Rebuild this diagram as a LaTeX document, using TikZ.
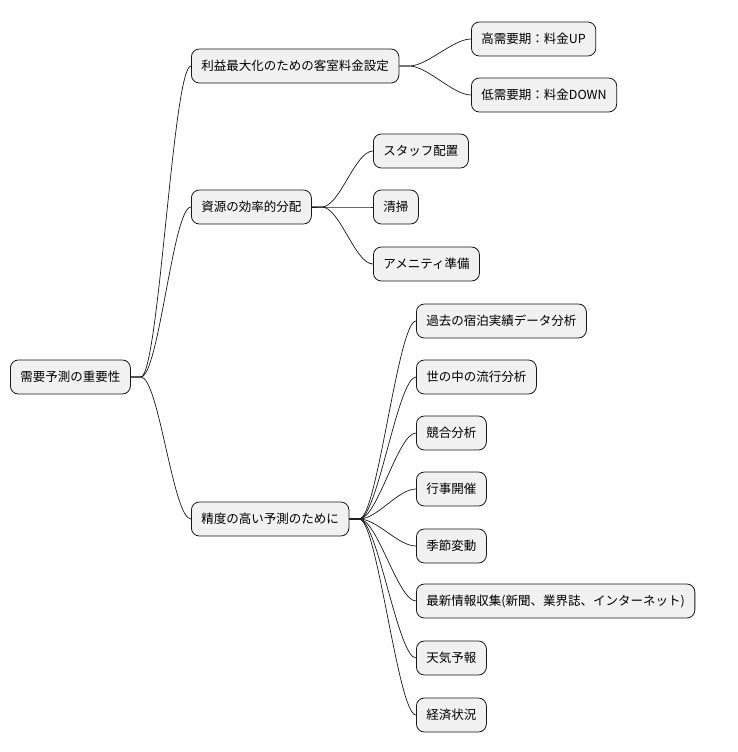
\documentclass[tikz,border=0pt]{standalone}
\usepackage{fontspec}
\setmainfont{Noto Sans CJK JP}
\usepackage{tikz}
\definecolor{nodefill}{HTML}{F1F1F1}
\definecolor{nodeline}{HTML}{181818}
\tikzset{
  topic/.style={draw=nodeline, fill=nodefill, rounded corners=8pt, anchor=west,
    minimum height=34pt, inner xsep=10pt, font=\fontsize{12.5}{14}\selectfont, line width=0.8pt},
  branch/.style={draw=nodeline, line width=0.7pt}
}
\newcommand{\branchto}[2]{\draw[branch] (#1.east) -- ++(10,0) .. controls +(18,0) and +(-18,0) .. (#2.west);}
\begin{document}
\begin{tikzpicture}[x=1pt,y=-1pt]
	\useasboundingbox[fill=white] (0,0) rectangle (737,752);
	% root
	\node[topic] (root) at (10,377) {需要予測の重要性};
	% first level
	\node[topic] (price) at (191,66) {利益最大化のための客室料金設定};
	\node[topic] (res) at (191,207) {資源の効率的分配};
	\node[topic] (acc) at (191,519) {精度の高い予測のために};
	% pricing
	\node[topic] (high) at (471,39) {高需要期：料金UP};
	\node[topic] (low) at (471,95) {低需要期：料金DOWN};
	% resources
	\node[topic] (staff) at (373,151) {スタッフ配置};
	\node[topic] (clean) at (373,207) {清掃};
	\node[topic] (amen) at (373,264) {アメニティ準備};
	% accuracy
	\node[topic] (past) at (416,321) {過去の宿泊実績データ分析};
	\node[topic] (trend) at (416,377) {世の中の流行分析};
	\node[topic] (comp) at (416,433) {競合分析};
	\node[topic] (event) at (416,489) {行事開催};
	\node[topic] (season) at (416,546) {季節変動};
	\node[topic] (news) at (416,601) {最新情報収集(新聞、業界誌、インターネット)};
	\node[topic] (weather) at (416,658) {天気予報};
	\node[topic] (econ) at (416,715) {経済状況};
	% connectors
	\foreach \c in {price,res,acc} {\branchto{root}{\c}}
	\foreach \c in {high,low} {\branchto{price}{\c}}
	\foreach \c in {staff,clean,amen} {\branchto{res}{\c}}
	\foreach \c in {past,trend,comp,event,season,news,weather,econ} {\branchto{acc}{\c}}
\end{tikzpicture}
\end{document}
